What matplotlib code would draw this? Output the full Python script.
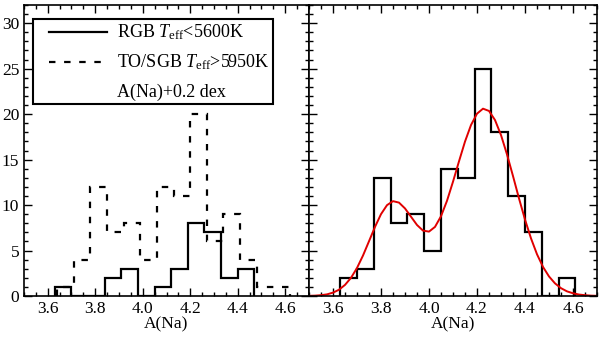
import matplotlib
matplotlib.use("Agg")
import matplotlib.pyplot as plt
from matplotlib.patches import Rectangle
from matplotlib.ticker import MultipleLocator

plt.rcParams['font.family'] = ['Liberation Serif', 'DejaVu Serif']
plt.rcParams['mathtext.fontset'] = 'custom'
plt.rcParams['mathtext.rm'] = 'Liberation Serif'
plt.rcParams['mathtext.it'] = 'Liberation Serif:italic'

# left panel: RGB (solid) and TO/SGB shifted by +0.2 dex (dashed)
rgb_edges = [3.63, 3.70, 3.77, 3.84, 3.91, 3.98, 4.05, 4.12, 4.19, 4.26, 4.33, 4.40, 4.47]
rgb_counts = [1, 0, 0, 2, 3, 0, 1, 3, 8, 7, 2, 3]
to_edges = [3.64, 3.71, 3.78, 3.85, 3.92, 3.99, 4.06, 4.13, 4.20, 4.27, 4.34, 4.41, 4.48, 4.55, 4.62]
to_counts = [1, 4, 12, 7, 8, 4, 12, 11, 20, 6, 9, 4, 1, 1]

# right panel: combined sample
all_edges = [3.63, 3.70, 3.77, 3.84, 3.91, 3.98, 4.05, 4.12, 4.19, 4.26, 4.33, 4.40, 4.47, 4.54, 4.61]
all_counts = [2, 3, 13, 8, 9, 5, 14, 13, 25, 18, 11, 7, 0, 2]

# red fitted curve
fit_x = [3.500, 3.525, 3.550, 3.575, 3.600, 3.625, 3.650, 3.675, 3.700, 3.725,
         3.750, 3.775, 3.800, 3.825, 3.850, 3.875, 3.900, 3.925, 3.950, 3.975,
         4.000, 4.025, 4.050, 4.075, 4.100, 4.125, 4.150, 4.175, 4.200, 4.225,
         4.250, 4.275, 4.300, 4.325, 4.350, 4.375, 4.400, 4.425, 4.450, 4.475,
         4.500, 4.525, 4.550, 4.575, 4.600, 4.625, 4.650, 4.675, 4.700]
fit_y = [0.02, 0.04, 0.09, 0.18, 0.37, 0.69, 1.22, 2.00, 3.08, 4.45,
         6.02, 7.60, 9.00, 9.99, 10.43, 10.27, 9.63, 8.72, 7.81, 7.19,
         7.08, 7.60, 8.77, 10.47, 12.57, 14.81, 16.98, 18.80, 20.05, 20.60,
         20.35, 19.35, 17.70, 15.57, 13.19, 10.73, 8.41, 6.34, 4.59, 3.20,
         2.15, 1.39, 0.86, 0.51, 0.30, 0.16, 0.09, 0.04, 0.02]

xticks = [3.6, 3.8, 4.0, 4.2, 4.4, 4.6]
yticks = [0, 5, 10, 15, 20, 25, 30]

fig = plt.figure(figsize=(6.0, 3.39), dpi=100)
W, H = 600.0, 339.0
ax1 = fig.add_axes([24 / W, (H - 296) / H, 285 / W, 291 / H])
ax2 = fig.add_axes([309 / W, (H - 296) / H, 288 / W, 291 / H])

dash = (2.9, 3.9)
ax1.stairs(rgb_counts, rgb_edges, color='black', lw=1.6)
ax1.stairs(to_counts, to_edges, color='black', lw=1.6, linestyle=(0, dash))

ax2.stairs(all_counts, all_edges, color='black', lw=1.6)
ax2.plot(fit_x, fit_y, color='#e00000', lw=1.4)

for ax in (ax1, ax2):
    ax.set_xlim(3.5, 4.7)
    ax.set_ylim(0, 32)
    ax.set_xticks(xticks)
    ax.set_yticks(yticks)
    ax.xaxis.set_minor_locator(MultipleLocator(0.05))
    ax.yaxis.set_minor_locator(MultipleLocator(1))
    ax.tick_params(which='both', direction='in', top=True, right=True, width=1.0)
    ax.tick_params(which='major', length=6)
    ax.tick_params(which='minor', length=3)
    ax.tick_params(labelsize=12.5)
    for s in ax.spines.values():
        s.set_linewidth(1.2)
    ax.set_xlabel('A(Na)', fontsize=12.5, labelpad=0)

ax1.set_xticklabels(['3.6', '3.8', '4.0', '4.2', '4.4', '4.6'])
ax2.set_xticklabels(['3.6', '3.8', '4.0', '4.2', '4.4', '4.6'])
ax2.set_yticklabels([])

# legend box drawn by hand
ax1.add_patch(Rectangle((0.0316, 0.660), 0.842, 0.292, transform=ax1.transAxes,
                        fill=False, edgecolor='black', lw=1.5, zorder=5))
ax1.plot([0.088, 0.291], [0.907, 0.907], transform=ax1.transAxes, color='black', lw=1.6)
ax1.plot([0.088, 0.291], [0.804, 0.804], transform=ax1.transAxes, color='black', lw=1.6,
         linestyle=(0, dash))
ax1.text(0.326, 0.907, r'RGB $T_{\mathrm{eff}}$<5600K', transform=ax1.transAxes,
         va='center', ha='left', fontsize=13)
ax1.text(0.326, 0.804, r'TO/SGB $T_{\mathrm{eff}}$>5950K', transform=ax1.transAxes,
         va='center', ha='left', fontsize=13)
ax1.text(0.326, 0.701, 'A(Na)+0.2 dex', transform=ax1.transAxes,
         va='center', ha='left', fontsize=13)

fig.savefig('out.png', dpi=100)
